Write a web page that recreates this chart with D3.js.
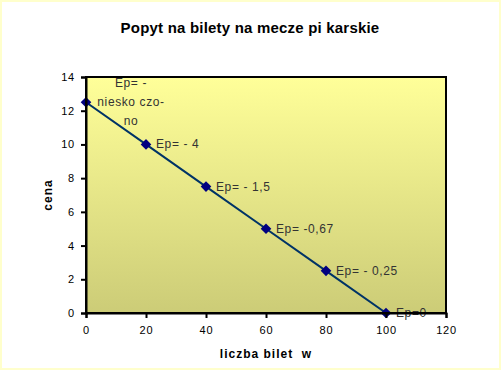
<!DOCTYPE html>
<html>
<head>
<meta charset="utf-8">
<script src="https://cdn.jsdelivr.net/npm/d3@7"></script>
<style>
  body { margin: 0; background: #fff; }
  svg { display: block; font-family: "Liberation Sans", Arial, sans-serif; }
</style>
</head>
<body>
<div id="chart"></div>
<script>
// demand for tickets
const ilosc = [0, 20, 40, 60, 80, 100];
const cena = [12.5, 10, 7.5, 5, 2.5, 0];
const etykiety = [["Ep= -", "niesko czo-", "no"], ["Ep= - 4"], ["Ep= - 1,5"], ["Ep= -0,67"], ["Ep= - 0,25"], ["Ep=0"]];
const xTicks = [0, 20, 40, 60, 80, 100, 120];
const yTicks = [0, 2, 4, 6, 8, 10, 12, 14];

const W = 501, H = 370;
const margin = { left: 86, right: 55, top: 77, bottom: 57 };
const w = W - margin.left - margin.right;
const h = H - margin.top - margin.bottom;

const svg = d3.select("#chart").append("svg")
  .attr("width", W)
  .attr("height", H);

const defs = svg.append("defs");
const grad = defs.append("linearGradient")
  .attr("id", "bg").attr("x1", 0).attr("y1", 0).attr("x2", 0).attr("y2", 1);
grad.append("stop").attr("offset", "0%").attr("stop-color", "#ffff99");
grad.append("stop").attr("offset", "100%").attr("stop-color", "#cccc77");

// outer border
svg.append("rect")
  .attr("x", 1).attr("y", 1).attr("width", W - 2).attr("height", H - 2)
  .attr("fill", "#fff").attr("stroke", "#ffffcc").attr("stroke-width", 2);

svg.append("text")
  .attr("x", 250).attr("y", 33)
  .attr("text-anchor", "middle")
  .style("font-size", "15px").style("font-weight", "bold")
  .style("letter-spacing", "0.2px")
  .text("Popyt na bilety na mecze pi karskie");

const g = svg.append("g")
  .attr("transform", "translate(" + margin.left + "," + margin.top + ")");

const x = d3.scaleLinear().domain([0, 120]).range([0, w]);
const y = d3.scaleLinear().domain([0, 14]).range([h, 0]);

g.append("rect")
  .attr("width", w).attr("height", h)
  .attr("fill", "url(#bg)");

const line = d3.line()
  .x((d, i) => x(ilosc[i]))
  .y(d => y(d));

g.append("path")
  .datum(cena)
  .attr("d", line)
  .attr("fill", "none")
  .attr("stroke", "#003366")
  .attr("stroke-width", 2);

g.selectAll("path.pt")
  .data(cena)
  .enter().append("path")
  .attr("class", "pt")
  .attr("d", d3.symbol().type(d3.symbolDiamond2).size(72))
  .attr("transform", (d, i) => "translate(" + x(ilosc[i]) + "," + y(d) + ")")
  .attr("fill", "#000080");

// labels
const lab = g.selectAll("text.lab")
  .data(etykiety)
  .enter().append("text")
  .attr("class", "lab")
  .style("font-size", "12px")
  .style("letter-spacing", "0.6px")
  .attr("fill", "#333");

lab.each(function (d, i) {
  const t = d3.select(this);
  if (d.length > 1) {
    t.attr("text-anchor", "middle");
    d.forEach((s, k) => {
      t.append("tspan")
        .attr("x", x(ilosc[i]) + 45)
        .attr("y", y(cena[i]) - 15 + k * 19)
        .text(s);
    });
  } else {
    t.attr("x", x(ilosc[i]) + 10)
      .attr("y", y(cena[i]) + 4)
      .text(d[0]);
  }
});

// frame
g.append("rect")
  .attr("width", w).attr("height", h)
  .attr("fill", "none").attr("stroke", "#000").attr("stroke-width", 2);

const xAxis = g.append("g")
  .attr("transform", "translate(0," + h + ")")
  .call(d3.axisBottom(x).tickValues(xTicks).tickSize(5).tickPadding(8));
const yAxis = g.append("g")
  .call(d3.axisLeft(y).tickValues(yTicks).tickSize(5).tickPadding(6));

[xAxis, yAxis].forEach(a => {
  a.select(".domain").attr("stroke", "#000").attr("stroke-width", 2);
  a.selectAll(".tick line").attr("stroke", "#000").attr("stroke-width", 2);
  a.selectAll(".tick text")
    .style("font-size", "11px")
    .style("font-family", "Liberation Sans, Arial, sans-serif")
    .style("letter-spacing", "0.8px")
    .attr("fill", "#000");
});
yAxis.selectAll(".tick line").attr("x1", 0).attr("x2", -5);
xAxis.selectAll(".tick line").attr("y1", 0).attr("y2", 5);

svg.append("text")
  .attr("x", margin.left + x(60)).attr("y", 358)
  .attr("text-anchor", "middle")
  .style("font-size", "12px").style("font-weight", "bold")
  .style("letter-spacing", "1px")
  .style("white-space", "pre")
  .text("liczba bilet  w");

svg.append("text")
  .attr("transform", "translate(52," + (margin.top + y(7)) + ") rotate(-90)")
  .attr("text-anchor", "middle")
  .style("font-size", "12px").style("font-weight", "bold")
  .style("letter-spacing", "1px")
  .text("cena");
</script>
</body>
</html>
